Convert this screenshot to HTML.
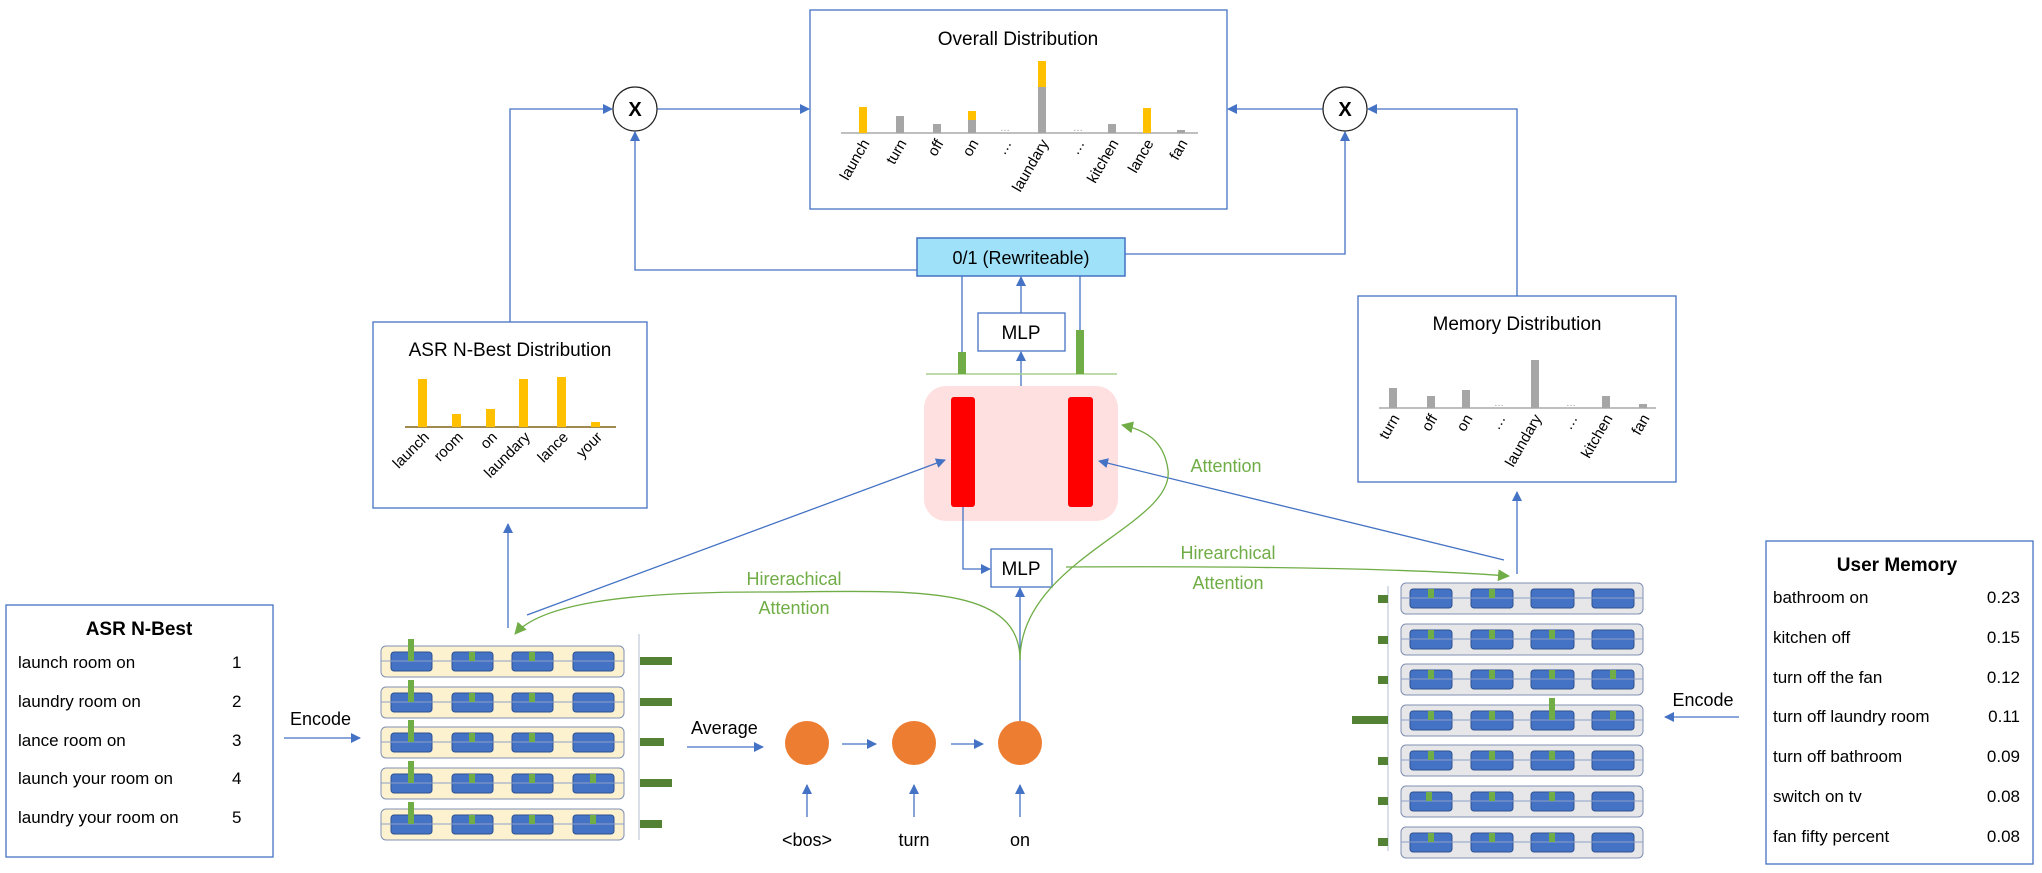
<!DOCTYPE html>
<html><head><meta charset="utf-8"><style>
html,body{margin:0;padding:0;background:#fff}
svg{display:block}
text{font-family:"Liberation Sans",sans-serif}
</style></head><body>
<svg width="2042" height="873" viewBox="0 0 2042 873" xmlns="http://www.w3.org/2000/svg">
<defs>
<marker id="ab" markerWidth="10" markerHeight="10" refX="9" refY="5" orient="auto" markerUnits="userSpaceOnUse"><path d="M0,0 L10,5 L0,10 z" fill="#4472c4"/></marker>
<marker id="ag" markerWidth="12" markerHeight="12" refX="11" refY="6" orient="auto" markerUnits="userSpaceOnUse"><path d="M0,0 L12,6 L0,12 z" fill="#70ad47"/></marker>
</defs>
<g fill="#fff" stroke="#4472c4" stroke-width="1.3">
<rect x="810" y="10" width="417" height="199"/>
<rect x="373" y="322" width="274" height="186"/>
<rect x="1358" y="296" width="318" height="186"/>
<rect x="6" y="605" width="267" height="252"/>
<rect x="1766" y="541" width="267" height="323"/>
</g>

<!-- pink box -->
<rect x="924" y="386" width="194" height="135" rx="22" fill="#fde0df"/>
<rect x="951" y="397" width="24" height="110" rx="3" fill="#ff0000"/>
<rect x="1068" y="397" width="25" height="110" rx="3" fill="#ff0000"/>

<g fill="none" stroke="#4472c4" stroke-width="1.3">
<path d="M510,322 V109 H612" marker-end="url(#ab)"/>
<path d="M657,109 H809" marker-end="url(#ab)"/>
<path d="M962,352 V270 H635 V132" marker-end="url(#ab)"/>
<path d="M1517,296 V109 H1368" marker-end="url(#ab)"/>
<path d="M1323,109 H1228" marker-end="url(#ab)"/>
<path d="M1080,330 V254 H1345 V132" marker-end="url(#ab)"/>
<path d="M1021,313 V277" marker-end="url(#ab)"/>
<path d="M1021,386 V352" marker-end="url(#ab)"/>
<path d="M963,507 V569 H990" marker-end="url(#ab)"/>
<path d="M1020,721 V588" marker-end="url(#ab)"/>
<path d="M508,628 V524" marker-end="url(#ab)"/>
<path d="M1517,574 V492" marker-end="url(#ab)"/>
<path d="M527,615 L945,460" marker-end="url(#ab)"/>
<path d="M1504,560 L1099,461" marker-end="url(#ab)"/>
<path d="M284,738 H360" marker-end="url(#ab)"/>
<path d="M687,747 H763" marker-end="url(#ab)"/>
<path d="M842,744 H876" marker-end="url(#ab)"/>
<path d="M951,744 H983" marker-end="url(#ab)"/>
<path d="M807,817 V785" marker-end="url(#ab)"/>
<path d="M914,817 V785" marker-end="url(#ab)"/>
<path d="M1020,817 V785" marker-end="url(#ab)"/>
<path d="M1739,717 H1665" marker-end="url(#ab)"/>
</g>
<!-- X circles -->
<circle cx="635" cy="109" r="22" fill="#fff" stroke="#222" stroke-width="1.2"/>
<text x="635" y="116" font-size="20" text-anchor="middle" font-weight="bold">X</text>
<circle cx="1345" cy="109" r="22" fill="#fff" stroke="#222" stroke-width="1.2"/>
<text x="1345" y="116" font-size="20" text-anchor="middle" font-weight="bold">X</text>

<!-- Overall distribution -->
<text x="1018" y="45" font-size="19" text-anchor="middle">Overall Distribution</text>
<line x1="841" y1="133" x2="1198" y2="133" stroke="#bfbfbf" stroke-width="2"/>
<g>
<rect x="859" y="107" width="8" height="26" fill="#ffc000"/>
<rect x="896" y="116" width="8" height="17" fill="#a6a6a6"/>
<rect x="933" y="124" width="8" height="9" fill="#a6a6a6"/>
<rect x="968" y="120" width="8" height="13" fill="#a6a6a6"/>
<rect x="968" y="111" width="8" height="9" fill="#ffc000"/>
<rect x="1038" y="87" width="8" height="46" fill="#a6a6a6"/>
<rect x="1038" y="61" width="8" height="26" fill="#ffc000"/>
<rect x="1108" y="124" width="8" height="9" fill="#a6a6a6"/>
<rect x="1143" y="108" width="8" height="25" fill="#ffc000"/>
<rect x="1177" y="130" width="8" height="3" fill="#a6a6a6"/>
<text x="1005" y="131" font-size="10" fill="#999" text-anchor="middle">…</text>
<text x="1078" y="131" font-size="10" fill="#999" text-anchor="middle">…</text>
</g>
<g font-size="15" text-anchor="end">
<text transform="translate(870,143) rotate(-60)">launch</text>
<text transform="translate(907,143) rotate(-60)">turn</text>
<text transform="translate(944,143) rotate(-60)">off</text>
<text transform="translate(979,143) rotate(-60)">on</text>
<text transform="translate(1012,143) rotate(-60)">…</text>
<text transform="translate(1049,143) rotate(-60)">laundary</text>
<text transform="translate(1085,143) rotate(-60)">…</text>
<text transform="translate(1119,143) rotate(-60)">kitchen</text>
<text transform="translate(1154,143) rotate(-60)">lance</text>
<text transform="translate(1188,143) rotate(-60)">fan</text>
</g>

<!-- 0/1 box -->
<rect x="917" y="238" width="208" height="38" fill="#9fe1f8" stroke="#4472c4" stroke-width="1.5"/>
<text x="1021" y="264" font-size="18" text-anchor="middle">0/1 (Rewriteable)</text>
<rect x="978" y="313" width="87" height="38" fill="#fff" stroke="#4472c4" stroke-width="1.3"/>
<text x="1021" y="339" font-size="19" text-anchor="middle">MLP</text>
<line x1="926" y1="374" x2="1117" y2="374" stroke="#a9d18e" stroke-width="1.5"/>
<rect x="958" y="352" width="8" height="22" fill="#70ad47"/>
<rect x="1076" y="330" width="8" height="44" fill="#70ad47"/>

<!-- lower MLP -->
<rect x="991" y="549" width="61" height="38" fill="#fff" stroke="#4472c4" stroke-width="1.3"/>
<text x="1021" y="575" font-size="19" text-anchor="middle">MLP</text>

<!-- ASR dist -->
<text x="510" y="356" font-size="19" text-anchor="middle">ASR N-Best Distribution</text>
<line x1="405" y1="427" x2="616" y2="427" stroke="#a08a50" stroke-width="2"/>
<g fill="#ffc000">
<rect x="418" y="379" width="9" height="48"/>
<rect x="452" y="414" width="9" height="13"/>
<rect x="486" y="409" width="9" height="18"/>
<rect x="519" y="379" width="9" height="48"/>
<rect x="557" y="377" width="9" height="50"/>
<rect x="591" y="422" width="9" height="5"/>
</g>
<g font-size="15" text-anchor="end">
<text transform="translate(430,438) rotate(-45)">launch</text>
<text transform="translate(464,438) rotate(-45)">room</text>
<text transform="translate(498,438) rotate(-45)">on</text>
<text transform="translate(531,438) rotate(-45)">laundary</text>
<text transform="translate(569,438) rotate(-45)">lance</text>
<text transform="translate(603,438) rotate(-45)">your</text>
</g>

<!-- Memory dist -->
<text x="1517" y="330" font-size="19" text-anchor="middle">Memory Distribution</text>
<line x1="1379" y1="408" x2="1656" y2="408" stroke="#bfbfbf" stroke-width="2"/>
<g fill="#a6a6a6">
<rect x="1389" y="388" width="8" height="20"/>
<rect x="1427" y="396" width="8" height="12"/>
<rect x="1462" y="390" width="8" height="18"/>
<rect x="1531" y="360" width="8" height="48"/>
<rect x="1602" y="396" width="8" height="12"/>
<rect x="1639" y="404" width="8" height="4"/>
</g>
<text x="1499" y="406" font-size="10" fill="#999" text-anchor="middle">…</text>
<text x="1571" y="406" font-size="10" fill="#999" text-anchor="middle">…</text>
<g font-size="15" text-anchor="end">
<text transform="translate(1400,418) rotate(-60)">turn</text>
<text transform="translate(1438,418) rotate(-60)">off</text>
<text transform="translate(1473,418) rotate(-60)">on</text>
<text transform="translate(1506,418) rotate(-60)">…</text>
<text transform="translate(1542,418) rotate(-60)">laundary</text>
<text transform="translate(1578,418) rotate(-60)">…</text>
<text transform="translate(1613,418) rotate(-60)">kitchen</text>
<text transform="translate(1650,418) rotate(-60)">fan</text>
</g>

<!-- ASR N-Best list -->
<text x="139" y="635" font-size="19" font-weight="bold" text-anchor="middle">ASR N-Best</text>
<g font-size="17">
<text x="18" y="668">launch room on</text><text x="232" y="668">1</text>
<text x="18" y="707">laundry room on</text><text x="232" y="707">2</text>
<text x="18" y="746">lance room on</text><text x="232" y="746">3</text>
<text x="18" y="784">launch your room on</text><text x="232" y="784">4</text>
<text x="18" y="823">laundry your room on</text><text x="232" y="823">5</text>
</g>
<text x="290" y="725" font-size="18">Encode</text>
<text x="691" y="734" font-size="18">Average</text>

<!-- ASR encoder -->
<g stroke="#7f8fb3" stroke-width="1">
<rect x="381" y="646" width="243" height="31" rx="5" fill="#fdf2d0"/>
<rect x="381" y="687" width="243" height="31" rx="5" fill="#fdf2d0"/>
<rect x="381" y="727" width="243" height="31" rx="5" fill="#fdf2d0"/>
<rect x="381" y="768" width="243" height="31" rx="5" fill="#fdf2d0"/>
<rect x="381" y="809" width="243" height="31" rx="5" fill="#fdf2d0"/>
</g>
<g fill="#4472c4" stroke="#2f528f" stroke-width="1">
<rect x="391" y="652" width="41" height="19" rx="3"/><rect x="452" y="652" width="41" height="19" rx="3"/><rect x="512" y="652" width="41" height="19" rx="3"/><rect x="573" y="652" width="41" height="19" rx="3"/>
<rect x="391" y="693" width="41" height="19" rx="3"/><rect x="452" y="693" width="41" height="19" rx="3"/><rect x="512" y="693" width="41" height="19" rx="3"/><rect x="573" y="693" width="41" height="19" rx="3"/>
<rect x="391" y="733" width="41" height="19" rx="3"/><rect x="452" y="733" width="41" height="19" rx="3"/><rect x="512" y="733" width="41" height="19" rx="3"/><rect x="573" y="733" width="41" height="19" rx="3"/>
<rect x="391" y="774" width="41" height="19" rx="3"/><rect x="452" y="774" width="41" height="19" rx="3"/><rect x="512" y="774" width="41" height="19" rx="3"/><rect x="573" y="774" width="41" height="19" rx="3"/>
<rect x="391" y="815" width="41" height="19" rx="3"/><rect x="452" y="815" width="41" height="19" rx="3"/><rect x="512" y="815" width="41" height="19" rx="3"/><rect x="573" y="815" width="41" height="19" rx="3"/>
</g>
<g stroke="#8ea0c8" stroke-width="1">
<line x1="381" y1="661" x2="624" y2="661"/><line x1="381" y1="702" x2="624" y2="702"/><line x1="381" y1="742" x2="624" y2="742"/><line x1="381" y1="783" x2="624" y2="783"/><line x1="381" y1="824" x2="624" y2="824"/>
</g>
<g fill="#70ad47">
<rect x="408" y="639" width="6" height="22"/><rect x="469" y="652" width="6" height="9"/><rect x="529" y="652" width="6" height="9"/>
<rect x="408" y="680" width="6" height="22"/><rect x="469" y="693" width="6" height="9"/><rect x="529" y="693" width="6" height="9"/>
<rect x="408" y="720" width="6" height="22"/><rect x="469" y="733" width="6" height="9"/><rect x="529" y="733" width="6" height="9"/>
<rect x="408" y="761" width="6" height="22"/><rect x="469" y="774" width="6" height="9"/><rect x="529" y="774" width="6" height="9"/><rect x="590" y="774" width="6" height="9"/>
<rect x="408" y="802" width="6" height="22"/><rect x="469" y="815" width="6" height="9"/><rect x="529" y="815" width="6" height="9"/><rect x="590" y="815" width="6" height="9"/>
</g>
<line x1="639" y1="634" x2="639" y2="840" stroke="#b4bcd0" stroke-width="1"/>
<g fill="#548235">
<rect x="640" y="657" width="32" height="8"/>
<rect x="640" y="698" width="32" height="8"/>
<rect x="640" y="738" width="24" height="8"/>
<rect x="640" y="779" width="32" height="8"/>
<rect x="640" y="820" width="22" height="8"/>
</g>

<!-- orange circles -->
<circle cx="807" cy="743" r="22" fill="#ed7d31"/>
<circle cx="914" cy="743" r="22" fill="#ed7d31"/>
<circle cx="1020" cy="743" r="22" fill="#ed7d31"/>
<g font-size="18" text-anchor="middle">
<text x="807" y="846">&lt;bos&gt;</text>
<text x="914" y="846">turn</text>
<text x="1020" y="846">on</text>
</g>

<!-- green attention curves -->
<g fill="none" stroke="#70ad47" stroke-width="1.3">
<path d="M1020,660 C1020,580 900,592 760,592 C620,592 540,605 515,634" marker-end="url(#ag)"/>
<path d="M1020,660 C1020,560 1175,525 1168,470 C1164,440 1145,430 1122,425" marker-end="url(#ag)"/>
<path d="M1066,567 C1250,566 1400,568 1509,576" marker-end="url(#ag)"/>
</g>
<g font-size="18" fill="#70ad47" text-anchor="middle">
<text x="794" y="585">Hirerachical</text>
<text x="794" y="614">Attention</text>
<text x="1226" y="472">Attention</text>
<text x="1228" y="559">Hirearchical</text>
<text x="1228" y="589">Attention</text>
</g>

<!-- memory encoder -->
<line x1="1388" y1="586" x2="1388" y2="851" stroke="#b4bcd0" stroke-width="1"/>
<g stroke="#7f8fb3" stroke-width="1" fill="#e7e7e9">
<rect x="1401" y="583" width="242" height="31" rx="5"/>
<rect x="1401" y="624" width="242" height="31" rx="5"/>
<rect x="1401" y="664" width="242" height="31" rx="5"/>
<rect x="1401" y="705" width="242" height="31" rx="5"/>
<rect x="1401" y="745" width="242" height="31" rx="5"/>
<rect x="1401" y="786" width="242" height="31" rx="5"/>
<rect x="1401" y="827" width="242" height="31" rx="5"/>
</g>
<g fill="#4472c4" stroke="#2f528f" stroke-width="1">
<rect x="1410" y="589" width="42" height="19" rx="3"/><rect x="1471" y="589" width="42" height="19" rx="3"/><rect x="1531" y="589" width="43" height="19" rx="3"/><rect x="1592" y="589" width="42" height="19" rx="3"/>
<rect x="1410" y="630" width="42" height="19" rx="3"/><rect x="1471" y="630" width="42" height="19" rx="3"/><rect x="1531" y="630" width="43" height="19" rx="3"/><rect x="1592" y="630" width="42" height="19" rx="3"/>
<rect x="1410" y="670" width="42" height="19" rx="3"/><rect x="1471" y="670" width="42" height="19" rx="3"/><rect x="1531" y="670" width="43" height="19" rx="3"/><rect x="1592" y="670" width="42" height="19" rx="3"/>
<rect x="1410" y="711" width="42" height="19" rx="3"/><rect x="1471" y="711" width="42" height="19" rx="3"/><rect x="1531" y="711" width="43" height="19" rx="3"/><rect x="1592" y="711" width="42" height="19" rx="3"/>
<rect x="1410" y="751" width="42" height="19" rx="3"/><rect x="1471" y="751" width="42" height="19" rx="3"/><rect x="1531" y="751" width="43" height="19" rx="3"/><rect x="1592" y="751" width="42" height="19" rx="3"/>
<rect x="1410" y="792" width="42" height="19" rx="3"/><rect x="1471" y="792" width="42" height="19" rx="3"/><rect x="1531" y="792" width="43" height="19" rx="3"/><rect x="1592" y="792" width="42" height="19" rx="3"/>
<rect x="1410" y="833" width="42" height="19" rx="3"/><rect x="1471" y="833" width="42" height="19" rx="3"/><rect x="1531" y="833" width="43" height="19" rx="3"/><rect x="1592" y="833" width="42" height="19" rx="3"/>
</g>
<g stroke="#8ea0c8" stroke-width="1">
<line x1="1401" y1="598" x2="1643" y2="598"/><line x1="1401" y1="639" x2="1643" y2="639"/><line x1="1401" y1="679" x2="1643" y2="679"/><line x1="1401" y1="720" x2="1643" y2="720"/><line x1="1401" y1="760" x2="1643" y2="760"/><line x1="1401" y1="801" x2="1643" y2="801"/><line x1="1401" y1="842" x2="1643" y2="842"/>
</g>
<g fill="#70ad47">
<rect x="1428" y="589" width="6" height="9"/><rect x="1489" y="589" width="6" height="9"/>
<rect x="1428" y="630" width="6" height="9"/><rect x="1489" y="630" width="6" height="9"/><rect x="1549" y="630" width="6" height="9"/>
<rect x="1428" y="670" width="6" height="9"/><rect x="1489" y="670" width="6" height="9"/><rect x="1549" y="670" width="6" height="9"/><rect x="1610" y="670" width="6" height="9"/>
<rect x="1428" y="711" width="6" height="9"/><rect x="1489" y="711" width="6" height="9"/><rect x="1549" y="698" width="6" height="22"/><rect x="1610" y="711" width="6" height="9"/>
<rect x="1428" y="751" width="6" height="9"/><rect x="1489" y="751" width="6" height="9"/><rect x="1549" y="751" width="6" height="9"/>
<rect x="1426" y="792" width="6" height="9"/><rect x="1489" y="792" width="6" height="9"/><rect x="1549" y="792" width="6" height="9"/>
<rect x="1428" y="833" width="6" height="9"/><rect x="1489" y="833" width="6" height="9"/><rect x="1549" y="833" width="6" height="9"/>
</g>
<g fill="#548235">
<rect x="1378" y="595" width="10" height="8"/>
<rect x="1378" y="636" width="10" height="8"/>
<rect x="1378" y="676" width="10" height="8"/>
<rect x="1352" y="716" width="36" height="8"/>
<rect x="1378" y="757" width="10" height="8"/>
<rect x="1378" y="797" width="10" height="8"/>
<rect x="1378" y="838" width="10" height="8"/>
</g>
<text x="1703" y="706" font-size="18" text-anchor="middle">Encode</text>

<!-- user memory -->
<text x="1897" y="571" font-size="19" font-weight="bold" text-anchor="middle">User Memory</text>
<g font-size="17">
<text x="1773" y="603">bathroom on</text><text x="2020" y="603" text-anchor="end">0.23</text>
<text x="1773" y="643">kitchen off</text><text x="2020" y="643" text-anchor="end">0.15</text>
<text x="1773" y="683">turn off the fan</text><text x="2020" y="683" text-anchor="end">0.12</text>
<text x="1773" y="722">turn off laundry room</text><text x="2020" y="722" text-anchor="end">0.11</text>
<text x="1773" y="762">turn off bathroom</text><text x="2020" y="762" text-anchor="end">0.09</text>
<text x="1773" y="802">switch on tv</text><text x="2020" y="802" text-anchor="end">0.08</text>
<text x="1773" y="842">fan fifty percent</text><text x="2020" y="842" text-anchor="end">0.08</text>
</g>
</svg>
</body></html>
